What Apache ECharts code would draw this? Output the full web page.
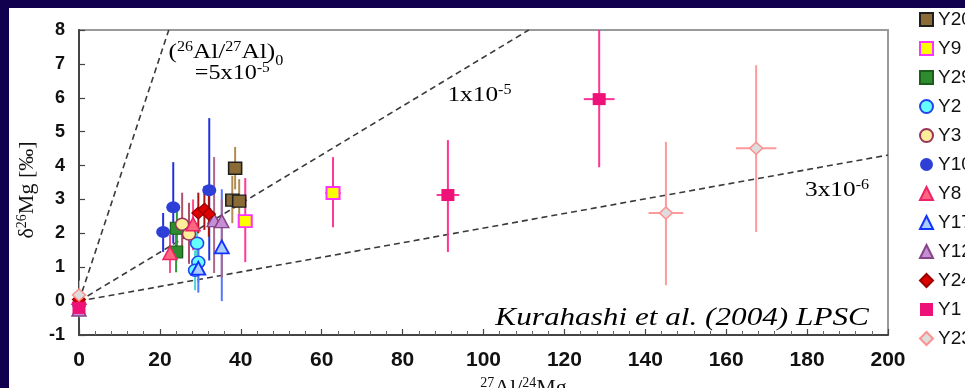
<!DOCTYPE html>
<html>
<head>
<meta charset="utf-8">
<script src="https://cdn.jsdelivr.net/npm/echarts@6.0.0/dist/echarts.min.js"></script>
<style>
  html, body { margin: 0; padding: 0; background: #10004e; width: 965px; height: 388px; overflow: hidden; }
  #chart { position: absolute; left: 9px; top: 8px; width: 956px; height: 380px; background: #ffffff; }
</style>
</head>
<body>
<div id="chart"></div>
<script>
// Sample names in legend order
const sampleNames = ['Y20', 'Y9', 'Y29', 'Y2', 'Y3', 'Y10', 'Y8', 'Y17', 'Y12', 'Y24', 'Y1', 'Y23'];

// Each point: [27Al/24Mg, δ26Mg, ±27Al/24Mg, δ26Mg low, δ26Mg high]
const y20 = [[38.6, 3.92, 0, 3.3, 4.55], [37.9, 2.98, 0, 2.3, 3.7], [39.6, 2.95, 0, 2.3, 3.6]];
const y9  = [[41.1, 2.36, 1.0, 1.15, 3.63], [62.8, 3.19, 1.9, 2.18, 4.25]];
const y29 = [[24.2, 2.15, 0, 1.55, 2.75], [24.0, 1.45, 0, 0.85, 2.05]];
const y2  = [[29.2, 1.71, 0, 1.1, 2.3], [29.5, 1.15, 0, 0.55, 1.75], [28.7, 0.91, 0, 0.32, 1.5]];
const y3  = [[25.5, 2.27, 0, 1.3, 3.2], [27.2, 1.98, 0, 1.1, 2.9]];
const y10 = [[20.8, 2.04, 0, 1.45, 2.6], [23.3, 2.77, 0, 1.7, 4.1], [32.2, 3.27, 0, 1.2, 5.4], [0, -0.1, 0, -0.4, 0.2]];
const y8  = [[22.5, 1.42, 0, 0.83, 1.95], [28.2, 2.27, 0, 1.5, 3.0], [0, 0.1, 0, -0.3, 0.6]];
const y17 = [[29.5, 0.97, 0, 0.25, 1.7], [35.3, 1.6, 0, 0.0, 3.3]];
const y12 = [[33.4, 2.39, 0, 0.83, 4.25], [35.3, 2.36, 0, 0.68, 3.0], [0, -0.25, 0, -0.5, 0.05]];
const y24 = [[29.5, 2.6, 0, 2.0, 3.2], [31.0, 2.71, 0, 2.1, 3.4], [32.1, 2.57, 0, 1.9, 3.3], [0, 0.05, 0, -0.3, 0.4]];
const y1  = [[91.2, 3.13, 2.8, 1.45, 4.75], [128.6, 5.96, 3.8, 3.95, 8.4], [0, -0.2, 0, -0.5, 0.1]];
const y23 = [[167.4, 4.51, 5.0, 2.04, 6.96], [145.1, 2.6, 4.3, 0.47, 4.7], [0, 0.18, 0, -0.2, 0.6]];
const sampleData = [y20, y9, y29, y2, y3, y10, y8, y17, y12, y24, y1, y23];

// Isochron end points for (26Al/27Al)0 = 5e-5, 1e-5, 3e-6
const isochron5e5 = [[0, 0], [22.2, 8]];
const isochron1e5 = [[0, 0], [111.2, 8]];
const isochron3e6 = [[0, 0], [200, 4.31]];

// Axis range and ticks
const xRange = [0, 200, 20];
const yRange = [-1, 8, 1];

// Annotation texts and their positions in data units
const noteTexts = [
  '{p|(}{s|26}{p|Al/}{s|27}{p|Al)}{b|0}',
  '{p|=5x10}{s|-5}',
  '{p|1x10}{s|-5}',
  '{p|3x10}{s|-6}',
  '{i|Kurahashi et al. (2004) LPSC}'
];
const notePositions = [[36.3, 7.35], [37.9, 6.73], [99.0, 6.08], [187.4, 3.27], [149.1, -0.5]];

// Marker appearance per sample
const markerStyles = {
  Y20: { symbol: 'rect', size: [13, 12], color: '#8b6b35', border: '#1e1e1e', bw: 1.5, bar: '#b08c52' },
  Y9:  { symbol: 'rect', size: [13, 12], color: '#ffff00', border: '#ff33ff', bw: 2, bar: '#ff3a9a' },
  Y29: { symbol: 'rect', size: [13, 12], color: '#2e8b2e', border: '#1b5e1b', bw: 1.2, bar: '#2e9a3a' },
  Y2:  { symbol: 'circle', size: [13, 12], color: '#66ffff', border: '#2244ee', bw: 1.5, bar: '#44d8d8' },
  Y3:  { symbol: 'circle', size: [13, 12], color: '#ffee99', border: '#99335a', bw: 1.5, bar: '#b0506a' },
  Y10: { symbol: 'circle', size: [14, 12], color: '#2d3fd6', border: '#2d3fd6', bw: 0, bar: '#2233dd' },
  Y8:  { symbol: 'triangle', size: [14, 13], color: '#ff6680', border: '#ee2266', bw: 1.5, bar: '#ff4d88' },
  Y17: { symbol: 'triangle', size: [14, 13], color: '#aaccff', border: '#1133ff', bw: 1.8, bar: '#5577ff' },
  Y12: { symbol: 'triangle', size: [14, 13], color: '#c58fd6', border: '#884488', bw: 1.5, bar: '#b06888' },
  Y24: { symbol: 'diamond', size: [13, 12], color: '#dd0000', border: '#990000', bw: 1.2, bar: '#aa1111' },
  Y1:  { symbol: 'rect', size: [13, 12], color: '#ee1177', border: '#ee1177', bw: 0, bar: '#ff3399' },
  Y23: { symbol: 'diamond', size: [13, 12], color: '#dddddd', border: '#ff9090', bw: 1.5, bar: '#ff9a9a' }
};

const chart = echarts.init(document.getElementById('chart'), null, { renderer: 'canvas' });

function errorBarSeries(name, data, color) {
  return {
    type: 'custom',
    name: name + '-err',
    clip: true,
    z: 2,
    encode: { x: 0, y: 1 },
    data: data,
    renderItem: function (params, api) {
      const x = api.value(0), y = api.value(1), dx = api.value(2);
      const lo = api.value(3), hi = api.value(4);
      const top = api.coord([x, hi]);
      const bot = api.coord([x, lo]);
      const children = [{
        type: 'line',
        shape: { x1: top[0], y1: top[1], x2: bot[0], y2: bot[1] },
        style: { stroke: color, lineWidth: 2 }
      }];
      if (dx > 0) {
        const l = api.coord([x - dx, y]);
        const r = api.coord([x + dx, y]);
        children.push({
          type: 'line',
          shape: { x1: l[0], y1: l[1], x2: r[0], y2: r[1] },
          style: { stroke: color, lineWidth: 2 }
        });
      }
      return { type: 'group', children: children };
    }
  };
}

function isochronSeries(name, pts) {
  return {
    type: 'line',
    name: name,
    data: pts,
    symbol: 'none',
    silent: true,
    z: 1,
    lineStyle: { color: '#3a3a3a', width: 1.6, type: [6, 4] }
  };
}

const serifRich = {
  p: { fontSize: 22, fontFamily: 'Liberation Serif', color: '#111', lineHeight: 24 },
  s: { fontSize: 14, fontFamily: 'Liberation Serif', color: '#111', verticalAlign: 'top', lineHeight: 14 },
  b: { fontSize: 14, fontFamily: 'Liberation Serif', color: '#111', verticalAlign: 'bottom', lineHeight: 14, padding: [0, 0, -4, 0] },
  i: { fontSize: 26, fontFamily: 'Liberation Serif', fontStyle: 'italic', color: '#000', lineHeight: 28 }
};

const series = [];
series.push(isochronSeries('5e-5', isochron5e5));
series.push(isochronSeries('1e-5', isochron1e5));
series.push(isochronSeries('3e-6', isochron3e6));

sampleNames.forEach(function (n, i) {
  series.push(errorBarSeries(n, sampleData[i], markerStyles[n].bar));
});
sampleNames.forEach(function (n, i) {
  const m = markerStyles[n];
  series.push({
    type: 'scatter',
    name: n,
    z: 5,
    symbol: m.symbol,
    symbolSize: m.size,
    data: sampleData[i].map(function (d) { return [d[0], d[1]]; }),
    itemStyle: { color: m.color, borderColor: m.border, borderWidth: m.bw, opacity: 1 }
  });
});

// Text annotations placed in data coordinates
const noteScale = [1.15, 1.1, 1.15, 1.15, 1.2];
series.push({
  type: 'custom',
  name: 'notes',
  silent: true,
  z: 6,
  data: notePositions.map(function (p, i) { return [p[0], p[1], i]; }),
  encode: { x: 0, y: 1 },
  renderItem: function (params, api) {
    const pt = api.coord([api.value(0), api.value(1)]);
    const idx = api.value(2);
    return {
      type: 'text',
      x: pt[0],
      y: pt[1],
      scaleX: noteScale[idx],
      style: {
        text: noteTexts[idx],
        rich: serifRich,
        align: 'center',
        verticalAlign: 'middle'
      }
    };
  }
});

const option = {
  animation: false,
  backgroundColor: '#ffffff',
  grid: {
    left: 70, right: 77, top: 22, bottom: 53,
    show: true, borderColor: '#9a9a9a', borderWidth: 2,
    containLabel: false, outerBoundsMode: 'none'
  },
  legend: {
    orient: 'vertical',
    left: 905,
    top: -3,
    itemWidth: 13,
    itemHeight: 13,
    itemGap: 10,
    selectedMode: false,
    data: sampleNames,
    textStyle: { fontSize: 19, fontFamily: 'Liberation Sans', color: '#111' }
  },
  xAxis: {
    type: 'value',
    min: xRange[0], max: xRange[1], interval: xRange[2],
    name: '{s|27}{p|Al/}{s|24}{p|Mg}',
    nameLocation: 'middle',
    nameGap: 38,
    nameTextStyle: { rich: serifRich, padding: [0, 0, 0, 80] },
    axisLine: { show: true, onZero: false, lineStyle: { color: '#444', width: 2 } },
    axisTick: { show: true, inside: true, length: 6, lineStyle: { color: '#444', width: 1.2 } },
    minorTick: { show: true, splitNumber: 5, length: 4, lineStyle: { color: '#666', width: 1 } },
    splitLine: { show: false },
    axisLabel: { fontSize: 21, fontWeight: 'bold', fontFamily: 'Liberation Sans', color: '#111', margin: 15 }
  },
  yAxis: {
    type: 'value',
    min: yRange[0], max: yRange[1], interval: yRange[2],
    name: '{p|δ}{s|26}{p|Mg [‰]}',
    nameLocation: 'middle',
    nameRotate: 90,
    nameGap: 31,
    nameTextStyle: { rich: serifRich, padding: [0, 15, 0, 0] },
    axisLine: { show: true, onZero: false, lineStyle: { color: '#444', width: 2 } },
    axisTick: { show: true, inside: true, length: 6, lineStyle: { color: '#444', width: 1.2 } },
    splitLine: { show: false },
    axisLabel: { fontSize: 18, fontWeight: 'bold', fontFamily: 'Liberation Sans', color: '#111', margin: 14 }
  },
  series: series
};

chart.setOption(option);
</script>
</body>
</html>
